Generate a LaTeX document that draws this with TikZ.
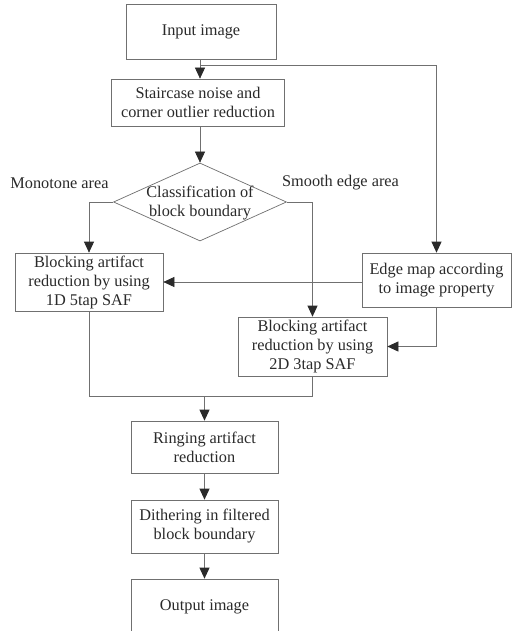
\documentclass[tikz,border=0pt]{standalone}
\usepackage{fontspec}
\setmainfont{Liberation Serif}
\usetikzlibrary{arrows.meta,shapes.geometric}
\definecolor{linec}{HTML}{707070}
\definecolor{textc}{HTML}{2A2A2A}
\begin{document}
\begin{tikzpicture}[x=1pt,y=-1pt,
  every node/.style={text=textc,font=\fontsize{16.3}{19}\selectfont},
  box/.style={draw=linec,line width=0.7pt,rectangle,align=center,inner sep=0pt},
  conn/.style={draw=linec,line width=0.7pt},
  arr/.style={conn,-{Triangle[length=11pt,width=10pt,color=textc]}}]
\useasboundingbox (0,0) rectangle (515,631);
\fill[white] (0,0) rectangle (515,631);
% nodes
\node[box,minimum width=150pt,minimum height=55pt] (input) at (201,31.5) {Input image};
\node[box,minimum width=173pt,minimum height=47pt] (stair) at (198,102.5) {Staircase noise and\\corner outlier reduction};
\node[diamond,draw=linec,line width=0.7pt,minimum width=173pt,minimum height=78pt,inner sep=0pt] (cls) at (200,202) {};
\node[align=center] (clstext) at (200,203) {Classification of\\block boundary};
\node (mono) at (59.5,183) {Monotone area};
\node (smooth) at (340.5,183) {Smooth edge area};
\node[box,minimum width=148pt,minimum height=58pt] (blk1) at (89,282) {Blocking artifact\\reduction by using\\1D 5tap SAF};
\node[box,minimum width=149pt,minimum height=54pt] (edge) at (436.5,280) {Edge map according\\to image property};
\node[box,minimum width=149pt,minimum height=59pt] (blk2) at (312.5,346.5) {Blocking artifact\\reduction by using\\2D 3tap SAF};
\node[box,minimum width=147pt,minimum height=52pt] (ring) at (204.5,447) {Ringing artifact\\reduction};
\node[box,minimum width=147pt,minimum height=53pt] (dith) at (204.5,526.5) {Dithering in filtered\\block boundary};
\node[box,minimum width=147pt,minimum height=56pt] (out) at (204.5,607) {Output image};
% coordinates
\coordinate (br) at (200,65);
\coordinate (j) at (204.5,396);
% connectors
\draw[arr] (br |- input.south) -- (br |- stair.north);
\draw[arr] (br) -| (edge.north);
\draw[arr] (br |- stair.south) -- (cls.north);
\draw[arr] (cls.west) -| (blk1.north);
\draw[arr] (cls.east) -| (blk2.north);
\draw[arr] (edge.west |- blk1.east) -- (blk1.east);
\draw[arr] (edge.south) |- (blk2.east);
\draw[conn] (blk1.south) |- (j);
\draw[conn] (blk2.south) |- (j);
\draw[arr] (j) -- (ring.north);
\draw[arr] (ring.south) -- (dith.north);
\draw[arr] (dith.south) -- (out.north);
\end{tikzpicture}
\end{document}
